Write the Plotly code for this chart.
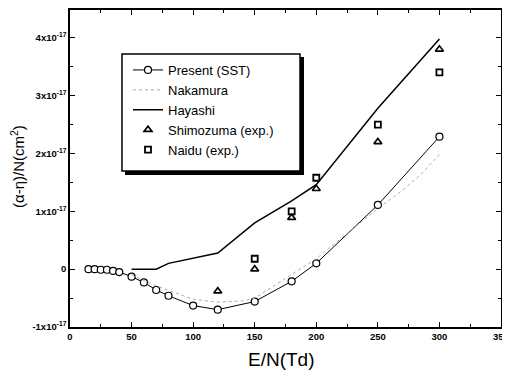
import plotly.graph_objects as go

UNIT = 1e-17

# Present (SST)
sst_x = [15, 20, 25, 30, 35, 40, 50, 60, 70, 80, 100, 120, 150, 180, 200, 250, 300]
sst_y = [0.0, 0.0, -0.01, -0.01, -0.03, -0.05, -0.13, -0.23, -0.36, -0.46, -0.63, -0.70, -0.56, -0.21, 0.10, 1.11, 2.29]

# Nakamura (dotted)
nak_x = [50, 70, 100, 120, 140, 150, 200, 250, 268, 285, 300]
nak_y = [-0.10, -0.29, -0.52, -0.57, -0.55, -0.50, 0.18, 1.05, 1.33, 1.64, 1.98]

# Hayashi
hay_x = [50, 70, 80, 100, 120, 150, 180, 200, 250, 300]
hay_y = [0.0, 0.0, 0.10, 0.19, 0.28, 0.80, 1.18, 1.46, 2.78, 3.98]

# Shimozuma (exp.)
shi_x = [120, 150, 180, 200, 250, 300]
shi_y = [-0.38, 0.0, 0.89, 1.39, 2.2, 3.8]

# Naidu (exp.)
nai_x = [150, 180, 200, 250, 300]
nai_y = [0.18, 1.0, 1.58, 2.5, 3.4]

ytick_vals = [-1, 0, 1, 2, 3, 4]
ytick_text = ["-1x10<sup>-17</sup>", "0", "1x10<sup>-17</sup>", "2x10<sup>-17</sup>",
              "3x10<sup>-17</sup>", "4x10<sup>-17</sup>"]
xtick_vals = [0, 50, 100, 150, 200, 250, 300, 350]

def sc(v):
    return [a * UNIT for a in v]

# page body has an 8px margin; plot area wanted at x 70..501, y 10..327 (screen px)
OFF = 8
PL, PR, PT, PB = 70, 501, 10, 327
W, H = 510 - OFF, 378 - OFF

def px(x):
    return (x - PL) / (PR - PL)

def py(y):
    return (PB - y) / (PB - PT)

fig = go.Figure()
fig.add_trace(go.Scatter(x=sst_x, y=sc(sst_y), name="Present (SST)", mode="lines+markers",
                         line=dict(color="black", width=1),
                         marker=dict(symbol="circle", size=7, color="white",
                                     line=dict(color="black", width=1.2))))
fig.add_trace(go.Scatter(x=nak_x, y=sc(nak_y), name="Nakamura", mode="lines",
                         line=dict(color="#aaaaaa", width=1, dash="dot")))
fig.add_trace(go.Scatter(x=hay_x, y=sc(hay_y), name="Hayashi", mode="lines",
                         line=dict(color="black", width=1.5)))
fig.add_trace(go.Scatter(x=shi_x, y=sc(shi_y), name="Shimozuma (exp.)", mode="markers",
                         marker=dict(symbol="triangle-up-open", size=7, color="black",
                                     line=dict(width=1.6))))
fig.add_trace(go.Scatter(x=nai_x, y=sc(nai_y), name="Naidu (exp.)", mode="markers",
                         marker=dict(symbol="square-open", size=6, color="black",
                                     line=dict(width=1.8))))

axis_common = dict(showline=True, linecolor="black", linewidth=1.5, mirror="allticks",
                   ticks="inside", ticklen=5, tickcolor="black", showgrid=False,
                   zeroline=False, automargin=False,
                   tickfont=dict(family="Arial", size=9.5, color="black", weight="bold"))

fig.update_xaxes(range=[0, 350], tickvals=xtick_vals,
                 minor=dict(ticks="inside", ticklen=3, dtick=25, tickcolor="black"),
                 **axis_common)
fig.update_yaxes(range=[-1 * UNIT, 4.48 * UNIT], tickvals=sc(ytick_vals), ticktext=ytick_text,
                 minor=dict(ticks="inside", ticklen=3, tickvals=sc([-0.5, 0.5, 1.5, 2.5, 3.5]), tickcolor="black"),
                 **axis_common)

# axis titles
fig.add_annotation(text="E/N(Td)", xref="paper", yref="paper", x=px(281), y=py(359),
                   xanchor="center", yanchor="middle", showarrow=False,
                   font=dict(family="Arial", size=19, color="black"))
fig.add_annotation(text="(α-η)/N(cm<sup>2</sup>)", xref="paper", yref="paper", x=px(17), y=py(167),
                   xanchor="center", yanchor="middle", showarrow=False, textangle=-90,
                   font=dict(family="Arial", size=15, color="black"))

# legend frame with drop shadow
fig.add_shape(type="rect", xref="paper", yref="paper",
              x0=px(125), x1=px(304), y0=py(175), y1=py(57),
              fillcolor="black", line=dict(width=0), layer="above")
fig.add_shape(type="rect", xref="paper", yref="paper",
              x0=px(122), x1=px(300), y0=py(171), y1=py(54),
              fillcolor="white", line=dict(color="black", width=1.5), layer="above")

fig.update_layout(
    width=W, height=H,
    margin=dict(l=PL - OFF, r=W - (PR - OFF), t=PT - OFF, b=H - (PB - OFF)),
    plot_bgcolor="white", paper_bgcolor="white",
    legend=dict(x=px(128), y=py(55), xanchor="left", yanchor="top",
                bgcolor="rgba(0,0,0,0)", borderwidth=0,
                font=dict(family="Arial", size=13, color="black"),
                tracegroupgap=0, itemwidth=30),
    showlegend=True,
)

fig.write_html("out.html")
